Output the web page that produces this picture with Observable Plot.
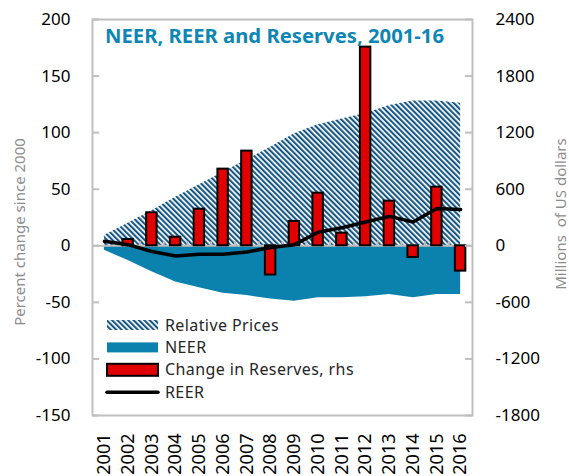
<!DOCTYPE html>
<html><head><meta charset="utf-8">
<script src="https://cdn.jsdelivr.net/npm/d3@7"></script>
<script src="https://cdn.jsdelivr.net/npm/@observablehq/plot@0.6"></script>
<style>
body{margin:0;background:#fff;}
#wrap{position:relative;width:569px;height:476px;overflow:hidden;}
#overlay{position:absolute;left:0;top:0;pointer-events:none;}
</style></head><body><div id="wrap"></div>
<script>
const years = [2001,2002,2003,2004,2005,2006,2007,2008,2009,2010,2011,2012,2013,2014,2015,2016];
const relativePrices = [9,20,31,43,54,65,76,87,99,107,112,117,124,128,128,126];
const neer = [-4,-13,-23,-32,-37,-42,-44,-47,-49,-46,-46,-45,-43,-46,-43,-43];
const reer = [4,1,-5,-9,-7.5,-7.5,-5.5,-1.5,1,12,16,21,26,21,33,32];
const reserves = [0,67,350,91,388,813,1004,-310,258,558,134,2107,473,-124,622,-269];
const leftTicks = [-150,-100,-50,0,50,100,150,200];
const RATIO = 12; // right axis (millions US$) = 12 x left axis (percent)

const title = "NEER, REER and Reserves, 2001-16";
const leftLabel = "Percent change since 2000";
const rightLabel = "Millions  of US dollars";
const legendItems = ["Relative Prices","NEER","Change in Reserves, rhs","REER"];

const HATCH = "#175783", NEER_C = "#0b81ae", RED = "#e00000", GRID = "#bfbfbf";

const rows = years.map((year,i)=>({year, rel: relativePrices[i], neer: neer[i], reer: reer[i], res: reserves[i]}));
const x0 = years[0]-0.5, x1 = years[years.length-1]+0.5;
const tickLen = 0.3;

const plot = Plot.plot({
  width:569, height:476, marginLeft:92, marginRight:97, marginTop:19, marginBottom:61,
  style:{fontFamily:"Noto Sans", fontSize:"17px", color:"#000", background:"#fff", overflow:"visible"},
  x:{domain:[x0,x1]},
  y:{domain:[-150,200]},
  marks:[
    Plot.areaY(rows,{x:"year", y1:0, y2:"rel", fill:"url(#hatch)"}),
    Plot.areaY(rows,{x:"year", y1:0, y2:"neer", fill:NEER_C}),
    Plot.ruleY([0],{stroke:GRID, strokeWidth:2}),
    Plot.ruleX(years.slice(1),{x:d=>d-0.5, y1:0, y2:3.5, stroke:GRID, strokeWidth:2}),
    Plot.rectY(rows,{x1:d=>d.year-0.22, x2:d=>d.year+0.22, y1:0, y2:d=>d.res/RATIO, fill:RED, stroke:"#000", strokeWidth:2}),
    Plot.lineY(rows,{x:"year", y:"reer", stroke:"#000", strokeWidth:3.5, strokeLinejoin:"round"}),
    Plot.ruleY(leftTicks,{x1:x0, x2:x0+tickLen, stroke:GRID, strokeWidth:2}),
    Plot.ruleY(leftTicks,{x1:x1-tickLen, x2:x1, stroke:GRID, strokeWidth:2}),
    Plot.frame({stroke:GRID, strokeWidth:2}),
    Plot.axisY(leftTicks,{anchor:"left", tickSize:0, tickPadding:22, label:null, tickFormat:d=>String(d)}),
    Plot.axisY(leftTicks,{anchor:"right", tickSize:0, tickPadding:23, label:null, tickFormat:d=>String(d*RATIO)}),
    Plot.axisX(years,{anchor:"bottom", tickSize:0, tickPadding:18, tickRotate:-90, label:null, fontSize:18, tickFormat:d=>String(d)})
  ]
});

const svg = d3.select(plot);
const defs = svg.insert("defs",":first-child");
const P = 3.8, D = 2.1;
const pat = defs.append("pattern").attr("id","hatch").attr("patternUnits","userSpaceOnUse")
  .attr("width",P).attr("height",P).attr("patternTransform","rotate(-45)");
pat.append("rect").attr("width",P).attr("height",P).attr("fill","#fff");
pat.append("rect").attr("width",D).attr("height",P).attr("fill",HATCH);

const wrap = document.getElementById("wrap");
wrap.appendChild(plot);

// overlay: title, axis titles, legend
const ov = d3.select(wrap).append("svg").attr("id","overlay").attr("width",569).attr("height",476)
  .style("font-family","Noto Sans");
ov.append("text").attr("x",105).attr("y",43).attr("fill","#0e86b4").attr("font-weight","bold")
  .attr("font-size",20).attr("textLength",339).attr("lengthAdjust","spacingAndGlyphs").text(title);
ov.append("text").attr("transform","translate(25,232) rotate(-90)").attr("text-anchor","middle")
  .attr("fill","#8c8c8c").attr("font-size",15).text(leftLabel);
ov.append("text").attr("transform","translate(566,214) rotate(-90)").attr("text-anchor","middle")
  .attr("fill","#8c8c8c").attr("font-size",15).style("white-space","pre").text(rightLabel);

const lx = 107, ly = 325, lstep = 22.4, sw = 51;
legendItems.forEach((name,i)=>{
  const cy = ly + i*lstep;
  const g = ov.append("g");
  if (i===0) g.append("rect").attr("x",lx).attr("y",cy-5).attr("width",sw).attr("height",10).attr("fill","url(#hatch)");
  if (i===1) g.append("rect").attr("x",lx).attr("y",cy-5).attr("width",sw).attr("height",10).attr("fill",NEER_C);
  if (i===2) g.append("rect").attr("x",lx).attr("y",cy-6).attr("width",sw).attr("height",12).attr("fill",RED).attr("stroke","#000").attr("stroke-width",2);
  if (i===3) g.append("line").attr("x1",lx).attr("x2",lx+sw).attr("y1",cy).attr("y2",cy).attr("stroke","#000").attr("stroke-width",3.5).attr("stroke-linecap","round");
  g.append("text").attr("x",165).attr("y",cy+5.5).attr("font-size",16).attr("fill","#262626").attr("letter-spacing",0.4).text(name);
});
</script></body></html>
